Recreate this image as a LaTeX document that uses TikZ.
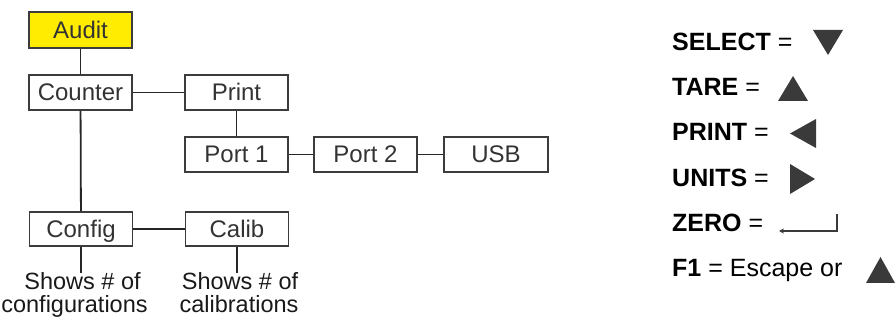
\documentclass[tikz,border=0pt]{standalone}
\usepackage{fontspec}
\setmainfont{Liberation Sans}
\usetikzlibrary{arrows.meta}
\definecolor{boxline}{HTML}{3C3C3C}
\definecolor{boxtext}{HTML}{333333}
\definecolor{tri}{HTML}{3A3A3A}
\definecolor{audityellow}{RGB}{255,236,0}
\begin{document}
\begin{tikzpicture}[x=1pt,y=1pt,
  menubox/.style={draw=boxline, line width=1.8pt, fill=white, minimum width=103pt,
    minimum height=35pt, inner sep=0pt, text=boxtext,
    font=\fontsize{24}{24}\selectfont, text height=17pt, text depth=0pt},
  link/.style={draw=black!85, line width=1.8pt},
  note/.style={anchor=base, inner sep=0pt, text=black!90, font=\fontsize{23.5}{23.5}\selectfont},
  key/.style={anchor=base west, inner sep=0pt, font=\fontsize{25}{25}\selectfont},
  trifill/.style={fill=tri}]
\useasboundingbox (0,0) rectangle (895,324);
% boxes
\node[menubox, fill=audityellow, minimum height=36pt] (audit) at (80.5,294) {Audit};
\node[menubox] (counter) at (80.5,231.5) {Counter};
\node[menubox] (print) at (236.5,231.5) {Print};
\node[menubox] (port1) at (236.5,169.5) {Port 1};
\node[menubox] (port2) at (365.5,169.5) {Port 2};
\node[menubox, minimum width=104pt] (usb) at (496,169.5) {USB};
\node[menubox, minimum height=34pt] (config) at (81,95) {Config};
\node[menubox, minimum height=34pt] (calib) at (237,95) {Calib};
% notes
\node[note] (cfg1) at (82.5,34) {Shows \# of};
\node[note] (cfg2) at (74.5,11) {configurations};
\node[note] (cal1) at (240,34) {Shows \# of};
\node[note] (cal2) at (239,11) {calibrations};
\coordinate (cfgtop) at (81,51);
\coordinate (caltop) at (237,51);
% connectors
\draw[link] (audit) -- (counter);
\draw[link] (counter) -- (config);
\draw[link] (counter) -- (print);
\draw[link] (print) -- (port1);
\draw[link] (port1) -- (port2);
\draw[link] (port2) -- (usb);
\draw[link] (config) -- (calib);
\draw[link] (config.south) -- (cfgtop);
\draw[link] (calib.south) -- (caltop);
% key
\node[key] (ksel) at (672,273) {\textbf{SELECT} =};
\node[key] (ktare) at (672,228) {\textbf{TARE} =};
\node[key] (kprint) at (672,183) {\textbf{PRINT} =};
\node[key] (kunits) at (672,137) {\textbf{UNITS} =};
\node[key] (kzero) at (672,92) {\textbf{ZERO} =};
\node[key] (kf1) at (672,47) {\textbf{F1} = Escape or};
\fill[trifill] (813,294) -- (843,294) -- (828,269) -- cycle;
\fill[trifill] (778,223) -- (808,223) -- (793,248) -- cycle;
\fill[trifill] (816,205) -- (816,176) -- (790,190.5) -- cycle;
\fill[trifill] (790,160) -- (790,130) -- (815,145) -- cycle;
\fill[trifill] (866,41) -- (895,41) -- (880.5,67) -- cycle;
\coordinate (zerotop) at (837,110);
\coordinate (zerocorner) at (837,93);
\coordinate (zeroend) at (779,93);
\draw[draw=tri, line width=1.4pt, -{Stealth[length=5pt,width=5pt]}] (zerotop) -- (zerocorner) -- (zeroend);
\end{tikzpicture}
\end{document}
